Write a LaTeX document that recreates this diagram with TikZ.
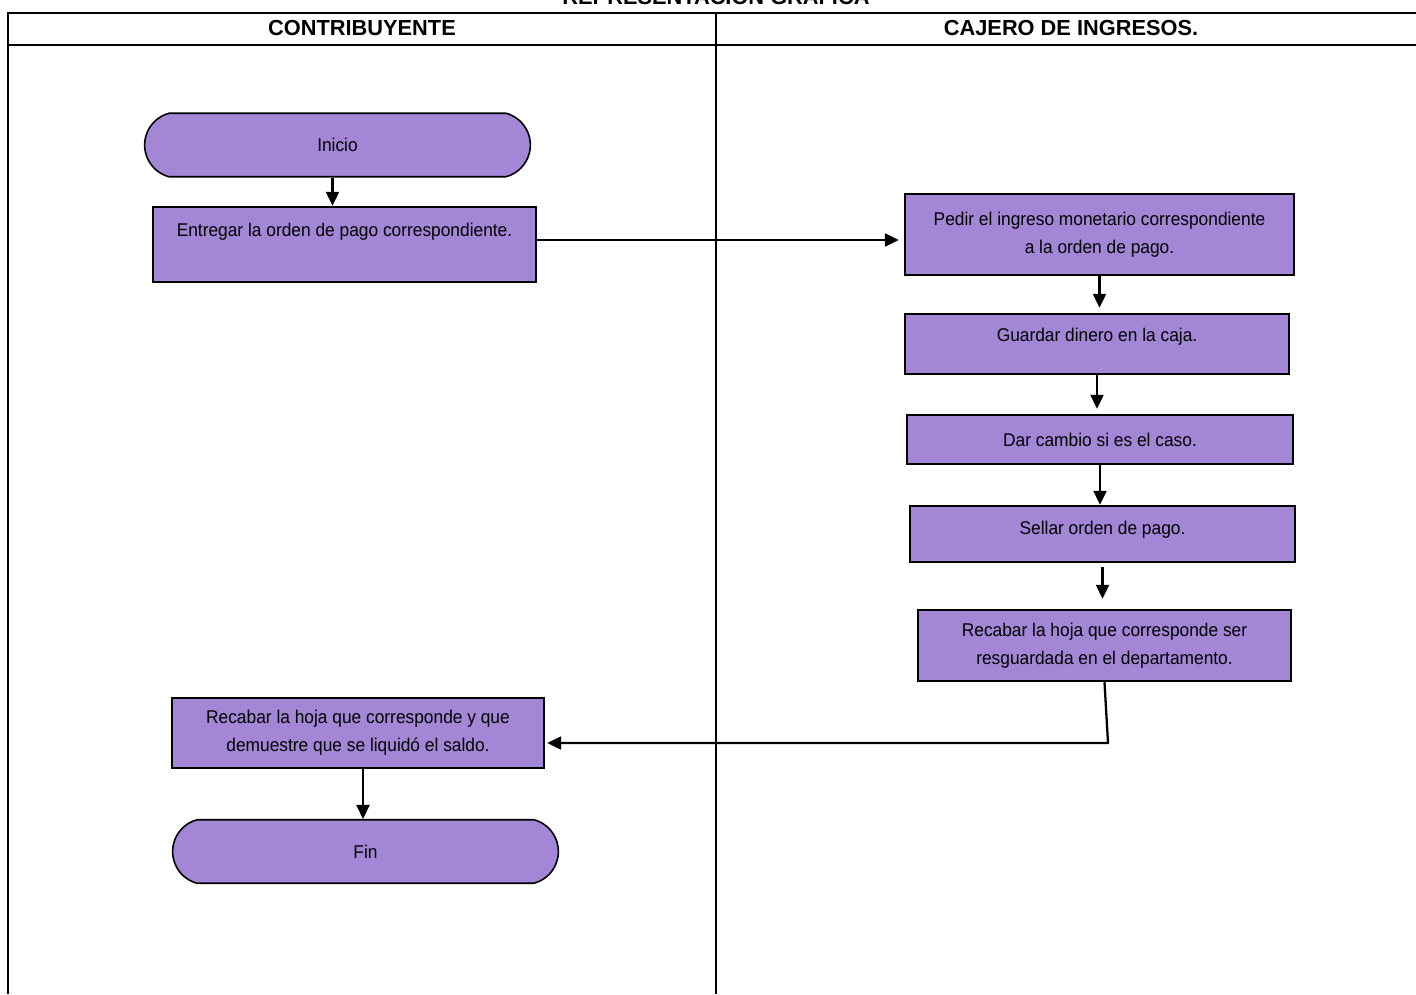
\documentclass[tikz,border=0pt]{standalone}
\usepackage{fontspec}
\setmainfont{Liberation Sans}
\newfontfamily\boxfont[FakeStretch=0.94]{Liberation Sans}
\usetikzlibrary{shapes.misc,arrows.meta,positioning,calc}
\definecolor{lila}{RGB}{163,134,214}

\begin{document}
\begin{tikzpicture}[x=0.02cm, y=-0.02cm,
    proc/.style={rectangle, draw, fill=lila, line width=1.4pt, font=\boxfont\fontsize{10.5}{15.9}\selectfont, align=center, inner sep=0pt},
    term/.style={rounded rectangle, rounded rectangle arc length=150, draw, fill=lila, line width=0.9pt, font=\boxfont\fontsize{10.5}{15.9}\selectfont, minimum width=7.95cm, minimum height=1.27cm},
    hdr/.style={font=\bfseries\fontsize{12.4}{14}\selectfont},
    arr/.style={-{Triangle[length=0.28cm, width=0.26cm]}, line width=1.3pt},
    lane/.style={line width=1pt},
]
\useasboundingbox (0,0) rectangle (1416,994);

% === Frame and lanes ===
\draw[lane, line width=1.2pt] (8,994) -- (8,13) -- (1420,13);
\draw[lane, line width=1.2pt] (8,45) -- (1420,45);
\draw[lane] (716,13) -- (716,994);
\node[hdr, anchor=base] (ttl) at (716,4) {REPRESENTACION GRAFICA};
\node[hdr] (hc) at (362,28) {CONTRIBUYENTE};
\node[hdr] (hj) at (1071,28) {CAJERO DE INGRESOS.};

% Contribuyente
\node[term] (ini) at (337.5,145) {Inicio};
\node[proc, minimum width=7.66cm, minimum height=1.5cm, text depth=0.58cm] (ent) at (344.5,244.5) {Entregar la orden de pago correspondiente.};
\node[proc, minimum width=7.44cm, minimum height=1.4cm] (rel) at (358,733) {Recabar la hoja que corresponde y que\\demuestre que se liquidó el saldo.};
\node[term] (fin) at (365.5,851.5) {Fin};

% Cajero de ingresos
\node[proc, minimum width=7.78cm, minimum height=1.62cm] (ped) at (1099.5,234.5) {Pedir el ingreso monetario correspondiente\\a la orden de pago.};
\node[proc, minimum width=7.68cm, minimum height=1.2cm, text depth=0.36cm] (gua) at (1097,344) {Guardar dinero en la caja.};
\node[proc, minimum width=7.72cm, minimum height=0.98cm] (dar) at (1100,439.5) {Dar cambio si es el caso.};
\node[proc, minimum width=7.7cm, minimum height=1.12cm, text depth=0.24cm] (sel) at (1102.5,534) {Sellar orden de pago.};
\node[proc, minimum width=7.46cm, minimum height=1.42cm] (rer) at (1104.5,645.5) {Recabar la hoja que corresponde ser\\resguardada en el departamento.};

% Connectors
\draw[arr] ([xshift=-0.1cm]ini.south) -- ([xshift=-0.1cm]ini.south |- ent.north);
\draw[arr, shorten >=0.1cm] ([yshift=0.09cm]ent.east) -- ([yshift=0.09cm]ent.east -| ped.west);
\draw[arr, shorten >=0.1cm] (ped.south) -- (ped.south |- gua.north);
\draw[arr, shorten >=0.1cm] (gua.south) -- (gua.south |- dar.north);
\draw[arr] (dar.south) -- (dar.south |- sel.north);
\draw[arr, shorten <=0.08cm, shorten >=0.2cm] (sel.south) -- (sel.south |- rer.north);
\coordinate (bnd) at (1108,743);
\draw[arr, shorten >=0.04cm] (rer.south) -- (bnd) -- (rel.east |- bnd);
\draw[arr] ([xshift=0.1cm]rel.south) -- ([xshift=0.1cm]rel.south |- fin.north);

\end{tikzpicture}
\end{document}
